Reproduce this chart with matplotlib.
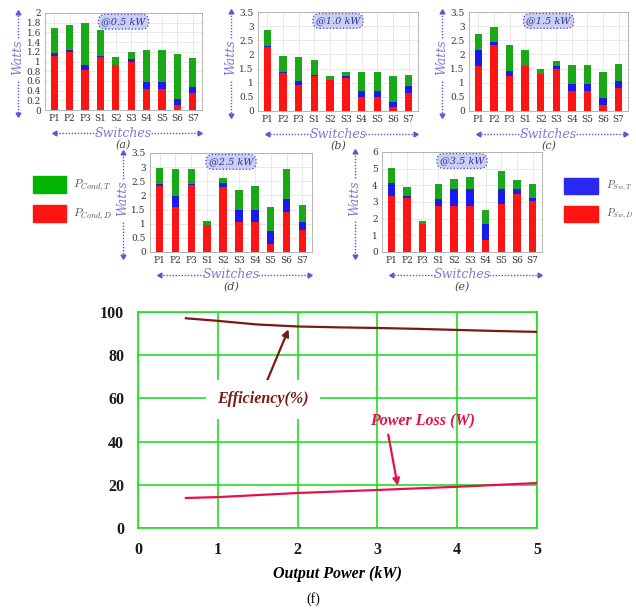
import numpy as np
from matplotlib import pyplot as plt

plt.rcParams['mathtext.fontset'] = 'cm'
plt.rcParams['font.family'] = 'DejaVu Serif'

# switch names (same for every bar panel)
switches = ["P1", "P2", "P3", "S1", "S2", "S3", "S4", "S5", "S6", "S7"]

# (a) @0.5 kW : cumulative tops of red / blue / green segments
a_red = [1.12, 1.20, 0.82, 1.10, 0.93, 1.00, 0.43, 0.43, 0.10, 0.35]
a_blue = [1.17, 1.23, 0.93, 1.12, 0.93, 1.06, 0.58, 0.58, 0.23, 0.48]
a_green = [1.70, 1.75, 1.80, 1.65, 1.10, 1.20, 1.23, 1.23, 1.16, 1.08]

# (b) @1.0 kW
b_red = [2.26, 1.35, 0.92, 1.25, 1.08, 1.15, 0.50, 0.50, 0.13, 0.65]
b_blue = [2.30, 1.38, 1.05, 1.27, 1.08, 1.25, 0.70, 0.70, 0.33, 0.87]
b_green = [2.87, 1.95, 1.92, 1.80, 1.25, 1.38, 1.37, 1.37, 1.25, 1.27]

# (c) @1.5 kW
c_red = [1.60, 2.35, 1.22, 1.60, 1.30, 1.50, 0.70, 0.70, 0.20, 0.80]
c_blue = [2.15, 2.43, 1.43, 1.60, 1.30, 1.60, 0.97, 0.97, 0.47, 1.05]
c_green = [2.73, 2.97, 2.33, 2.17, 1.47, 1.77, 1.63, 1.63, 1.37, 1.67]

# (d) @2.5 kW
d_red = [2.35, 1.60, 2.37, 0.97, 2.30, 1.05, 1.05, 0.27, 1.43, 0.78]
d_blue = [2.40, 1.97, 2.40, 0.97, 2.45, 1.50, 1.50, 0.75, 1.88, 1.05]
d_green = [2.97, 2.95, 2.95, 1.10, 2.63, 2.20, 2.33, 1.60, 2.93, 1.67]

# (e) @3.5 kW
e_red = [3.35, 3.25, 1.65, 2.75, 2.75, 2.75, 0.72, 2.90, 3.50, 3.05]
e_blue = [4.15, 3.35, 1.65, 3.15, 3.80, 3.75, 1.68, 3.80, 3.75, 3.25]
e_green = [5.05, 3.87, 1.85, 4.07, 4.40, 4.50, 2.50, 4.85, 4.30, 4.05]

# (f) efficiency and power loss vs output power
eff_x = [0.6, 1.0, 1.5, 2.0, 2.5, 3.0, 3.5, 4.0, 4.5, 5.0]
eff_y = [97.1, 95.9, 94.2, 93.3, 92.9, 92.6, 92.2, 91.7, 91.2, 90.8]
loss_x = [0.6, 1.0, 2.0, 3.0, 4.0, 5.0]
loss_y = [13.9, 14.3, 16.2, 17.6, 19.1, 20.8]

W, H = 636, 609
RED, BLUE, GREEN = "#ff1414", "#1a1aee", "#18a818"
LBLUE = "#5a5ad0"

fig = plt.figure(figsize=(W / 100, H / 100), dpi=100)


def rect(l, t, r, b):
    return [l / W, 1 - b / H, (r - l) / W, (b - t) / H]


def arrow(x0, y0, x1, y1, color=LBLUE):
    fig.add_artist(plt.Line2D([x0 / W, x1 / W], [1 - y0 / H, 1 - y1 / H],
                              transform=fig.transFigure, color=color,
                              lw=1.0, ls=(0, (1, 1.2))))
    fig.add_artist(plt.Line2D([x1 / W], [1 - y1 / H], transform=fig.transFigure,
                              marker=(3, 0, np.degrees(np.arctan2(-(y1 - y0), x1 - x0)) - 90),
                              color=color, ms=4, ls="none"))


def bar_panel(box, ymax, step, red, blue, green, title, letter):
    l, t, r, b = box
    ax = fig.add_axes(rect(l, t, r, b))
    x = np.arange(len(switches))
    red = np.array(red)
    blue = np.array(blue)
    green = np.array(green)
    ax.bar(x, red, width=0.47, color=RED, zorder=3)
    ax.bar(x, blue - red, bottom=red, width=0.47, color=BLUE, zorder=3)
    ax.bar(x, green - blue, bottom=blue, width=0.47, color=GREEN, zorder=3)
    ax.set_xlim(-0.6, len(switches) - 0.4)
    ax.set_ylim(0, ymax)
    ticks = np.arange(0, ymax + step / 2, step)
    ax.set_yticks(ticks)
    ax.set_yticklabels(["%g" % v for v in ticks])
    ax.set_xticks(x)
    ax.set_xticklabels(switches)
    ax.tick_params(length=0, labelsize=6.5, colors="#333333", pad=3)
    ax.grid(True, color="#e2e2e2", lw=0.5, zorder=0)
    for s in ax.spines.values():
        s.set_color("#aaaaaa")
        s.set_linewidth(0.6)
    ax.text(0.5, 0.91, title, transform=ax.transAxes, ha="center", va="center",
            fontsize=7, style="italic", color="#3030a0", zorder=5,
            bbox=dict(boxstyle="round,pad=0.3,rounding_size=0.7", fc="#c9cff2",
                      ec="#4848c0", ls=":", lw=0.9))
    # Watts label with arrows
    cx = l - 27
    cy = (t + b) / 2 - 4
    fig.text(cx / W, 1 - cy / H, "Watts", rotation=90, ha="center", va="center",
             fontsize=9, style="italic", color="#7a7ad6")
    arrow(cx, cy - 20, cx, t)
    arrow(cx, cy + 23, cx, b + 4)
    # Switches label with arrows
    mx = (l + r) / 2
    sy = b + 23
    fig.text(mx / W, 1 - sy / H, "Switches", ha="center", va="center",
             fontsize=9, style="italic", color="#7a7ad6")
    arrow(mx - 27, sy, l + 10, sy)
    arrow(mx + 27, sy, r - 3, sy)
    fig.text(mx / W, 1 - (b + 35) / H, letter, ha="center", va="center",
             fontsize=8, style="italic", color="#444444")
    return ax


bar_panel((45, 13, 202, 110), 2.0, 0.2, a_red, a_blue, a_green, "@0.5 kW", "(a)")
bar_panel((258, 12, 418, 111), 3.5, 0.5, b_red, b_blue, b_green, "@1.0 kW", "(b)")
bar_panel((469, 12, 628, 111), 3.5, 0.5, c_red, c_blue, c_green, "@1.5 kW", "(c)")
bar_panel((150, 153, 312, 252), 3.5, 0.5, d_red, d_blue, d_green, "@2.5 kW", "(d)")
bar_panel((382, 152, 542, 252), 6.0, 1.0, e_red, e_blue, e_green, "@3.5 kW", "(e)")

# legends
for (y0, col, lab) in [(176, "#00b400", r"$P_{Cond,T}$"), (205, RED, r"$P_{Cond,D}$")]:
    fig.add_artist(plt.Rectangle((33 / W, 1 - (y0 + 17) / H), 33 / W, 17 / H,
                                 transform=fig.transFigure, color=col))
    fig.text(73 / W, 1 - (y0 + 9) / H, lab, va="center", fontsize=8.5, color="#555555")
for (y0, col, lab) in [(178, "#2828f0", r"$P_{Sw,T}$"), (206, RED, r"$P_{Sw,D}$")]:
    fig.add_artist(plt.Rectangle((564 / W, 1 - (y0 + 16) / H), 34 / W, 16 / H,
                                 transform=fig.transFigure, color=col))
    fig.text(606 / W, 1 - (y0 + 8) / H, lab, va="center", fontsize=7.5, color="#555555")

# (f) efficiency / power loss
ax = fig.add_axes(rect(138, 312, 537, 528))
ax.plot(eff_x, eff_y, color="#7a1a10", lw=1.6, zorder=3)
ax.plot(loss_x, loss_y, color="#e8104a", lw=1.6, zorder=3)
ax.set_xlim(0, 5)
ax.set_ylim(0, 100)
ax.set_xticks(range(0, 6))
ax.set_yticks(range(0, 101, 20))
ax.grid(True, color="#22dd22", lw=1.2, zorder=1)
for s in ax.spines.values():
    s.set_color("#22dd22")
    s.set_linewidth(1.2)
ax.tick_params(length=0, labelsize=11.5, pad=10)
for lbl in ax.get_xticklabels() + ax.get_yticklabels():
    lbl.set_fontweight("bold")
    lbl.set_family("Liberation Serif")
    lbl.set_color("#1a1a1a")
ax.set_xlabel("Output Power (kW)", fontsize=11.5, fontweight="bold", style="italic",
              family="Liberation Serif", labelpad=6)
ax.annotate("", xy=(1.9, 93.2), xytext=(1.57, 64),
            arrowprops=dict(arrowstyle="-|>", color="#7a1a10", lw=1.6, mutation_scale=10))
ax.text(1.57, 59.5, "Efficiency(%)", ha="center", va="center", fontsize=11.5,
        fontweight="bold", style="italic", family="Liberation Serif", color="#7a1a10",
        zorder=4, bbox=dict(fc="white", ec="none", pad=8))
ax.annotate("", xy=(3.26, 18.3), xytext=(3.13, 44.5),
            arrowprops=dict(arrowstyle="-|>", color="#e8104a", lw=1.6, mutation_scale=10))
ax.text(3.56, 49.5, "Power Loss (W)", ha="center", va="center", fontsize=11.5,
        fontweight="bold", style="italic", family="Liberation Serif", color="#e8104a",
        zorder=4)
fig.text(313 / W, 1 - 599 / H, "(f)", ha="center", va="center", fontsize=10,
         family="Liberation Serif")

plt.savefig("out.png", dpi=100)
